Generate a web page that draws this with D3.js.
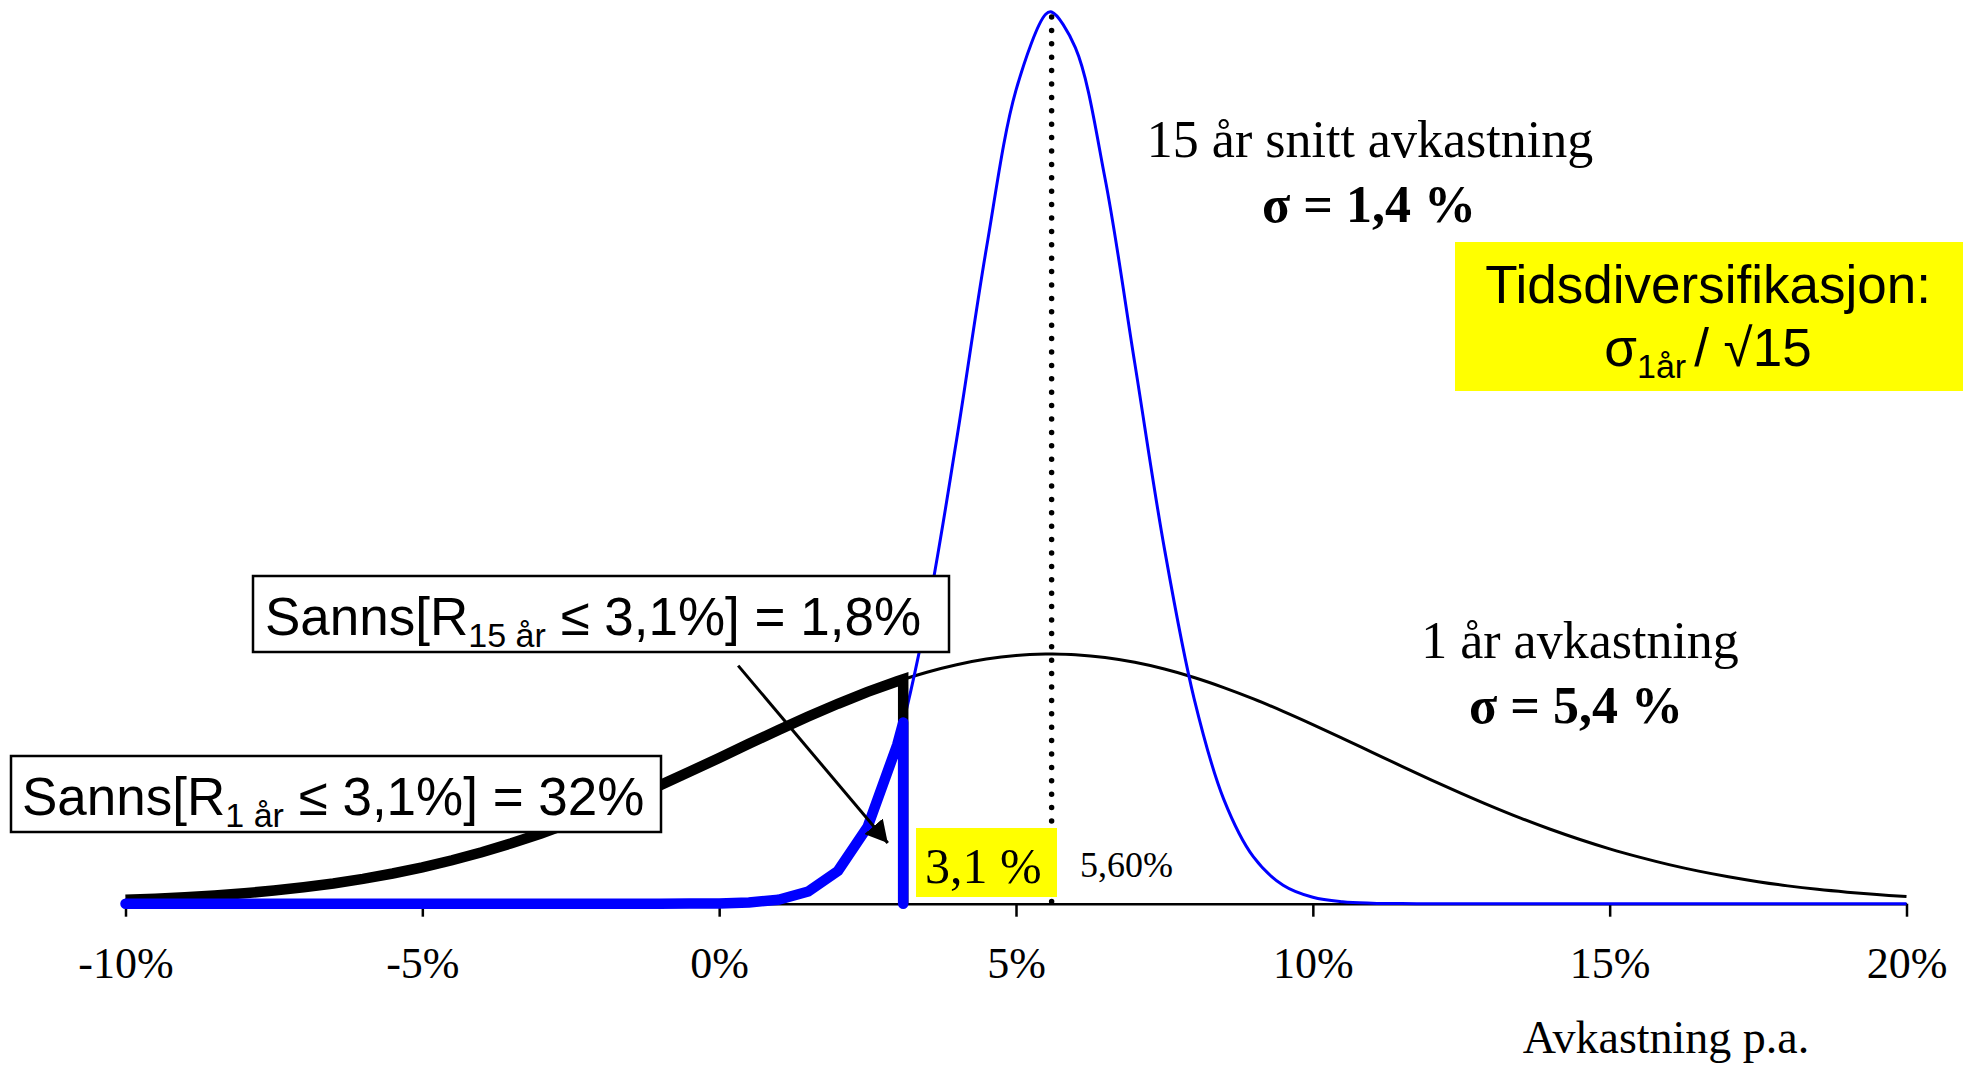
<!DOCTYPE html>
<html>
<head>
<meta charset="utf-8">
<script src="https://cdn.jsdelivr.net/npm/d3@7"></script>
<style>
  body { margin: 0; background: #fff; }
  .serif { font-family: "Liberation Serif", "Times New Roman", serif; }
  .sans { font-family: "Liberation Sans", Arial, sans-serif; }
</style>
</head>
<body>
<div id="graph"></div>
<script>
// return p.a. in %, one point every 0.5 %
const returns = [-10, -9.5, -9, -8.5, -8, -7.5, -7, -6.5, -6, -5.5, -5, -4.5, -4, -3.5, -3, -2.5,
  -2, -1.5, -1, -0.5, 0, 0.5, 1, 1.5, 2, 2.5, 3, 3.5, 4, 4.5, 5, 5.5, 6, 6.5, 7, 7.5, 8, 8.5,
  9, 9.5, 10, 10.5, 11, 11.5, 12, 12.5, 13, 13.5, 14, 14.5, 15, 15.5, 16, 16.5, 17, 17.5, 18,
  18.5, 19, 19.5, 20];

// curve heights (relative units, top of 15 year curve = 100)
const oneYear = [0.43, 0.56, 0.72, 0.93, 1.17, 1.48, 1.84, 2.27, 2.79, 3.39, 4.08, 4.87, 5.77,
  6.77, 7.88, 9.09, 10.4, 11.8, 13.27, 14.79, 16.35, 17.93, 19.48, 20.99, 22.42, 23.75, 24.94,
  25.96, 26.8, 27.43, 27.83, 28, 27.92, 27.61, 27.07, 26.32, 25.37, 24.24, 22.97, 21.57, 20.09,
  18.55, 16.98, 15.41, 13.87, 12.38, 10.95, 9.6, 8.35, 7.2, 6.15, 5.22, 4.38, 3.65, 3.02, 2.47,
  2, 1.61, 1.29, 1.02, 0.8];

const fifteenYear = [0, 0, 0, 0, 0, 0, 0, 0, 0, 0, 0, 0, 0, 0, 0, 0, 0, 0, 0, 0.01, 0.03, 0.13,
  0.45, 1.37, 3.67, 8.61, 17.83, 32.47, 52.05, 73.44, 91.23, 99.75, 96, 81.33, 60.65, 39.82,
  23.01, 11.7, 5.24, 2.07, 0.72, 0.22, 0.06, 0.01, 0, 0, 0, 0, 0, 0, 0, 0, 0, 0, 0, 0, 0, 0, 0,
  0, 0];

const tickValues = [-10, -5, 0, 5, 10, 15, 20];
const tickLabels = ["-10%", "-5%", "0%", "5%", "10%", "15%", "20%"];

// top of both curves at the mean
const meanReturn = 5.6;
const oneYearTop = 28;
const fifteenYearTop = 100;

const cutoff = 3.1;
const oneYearAtCutoff = 25.16;
const fifteenYearAtCutoff = 20.31;

// arrow from the 15 year label down to the tail (data units)
const arrowFrom = [0.32, 26.7];
const arrowTo = [2.84, 6.8];

const width = 1968, height = 1065;

const svg = d3.select("#graph")
  .append("svg")
  .attr("width", width)
  .attr("height", height);

const x = d3.scaleLinear().domain([-10, 20]).range([125.5, 1906.5]);
const y = d3.scaleLinear().domain([0, 100]).range([903.7, 12]);

//axis first so the curves sit on top of it
const axis = svg.append("g")
  .attr("transform", "translate(0," + y(0) + ")")
  .call(d3.axisBottom(x)
    .tickValues(tickValues)
    .tickFormat((d, i) => tickLabels[i])
    .tickSize(13)
    .tickSizeOuter(0)
    .tickPadding(30));
axis.select(".domain").attr("stroke", "#000").attr("stroke-width", 2.5);
axis.selectAll(".tick line").attr("stroke", "#000").attr("stroke-width", 2.5);
axis.selectAll(".tick text")
  .attr("class", "serif")
  .attr("font-size", 44)
  .attr("fill", "#000");

const rows = returns.map((r, i) => ({ r: r, one: oneYear[i], fifteen: fifteenYear[i] }));

// thin curves also pass through the top at the mean
const smoothRows = rows.concat([{ r: meanReturn, one: oneYearTop, fifteen: fifteenYearTop }])
  .sort((a, b) => a.r - b.r);

const smooth = (key) => d3.line()
  .x(d => x(d.r))
  .y(d => y(d[key]))
  .curve(d3.curveCatmullRom.alpha(0.5));

// thin full curves
svg.append("path").datum(smoothRows)
  .attr("d", smooth("one"))
  .attr("fill", "none").attr("stroke", "#000").attr("stroke-width", 3);
svg.append("path").datum(smoothRows)
  .attr("d", smooth("fifteen"))
  .attr("fill", "none").attr("stroke", "#0000ff").attr("stroke-width", 3);

// thick tails up to the 3,1 % cut
const tail = (key, atCut) => rows
  .filter(d => d.r <= cutoff)
  .map(d => [d.r, d[key]])
  .concat([[cutoff, atCut], [cutoff, 0]]);

const straight = d3.line().x(d => x(d[0])).y(d => y(d[1]));

svg.append("path").datum(tail("one", oneYearAtCutoff))
  .attr("d", straight)
  .attr("fill", "none").attr("stroke", "#000").attr("stroke-width", 10.5)
  .attr("stroke-linejoin", "miter");
svg.append("path").datum(tail("fifteen", fifteenYearAtCutoff))
  .attr("d", straight)
  .attr("fill", "none").attr("stroke", "#0000ff").attr("stroke-width", 10.5)
  .attr("stroke-linejoin", "round").attr("stroke-linecap", "round");

// dotted line at the mean
svg.append("line")
  .attr("x1", x(meanReturn)).attr("x2", x(meanReturn))
  .attr("y1", y(fifteenYearTop) + 5).attr("y2", y(0))
  .attr("stroke", "#000").attr("stroke-width", 5.5)
  .attr("stroke-linecap", "round")
  .attr("stroke-dasharray", "0 13.4");

// yellow 3,1 % label
svg.append("rect").attr("x", 916).attr("y", 828).attr("width", 141).attr("height", 69)
  .attr("fill", "#ffff00");
svg.append("text").attr("class", "serif").attr("x", 925).attr("y", 883)
  .attr("font-size", 50).text("3,1 %");

svg.append("text").attr("class", "serif").attr("x", 1080).attr("y", 877)
  .attr("font-size", 36).text("5,60%");

// curve labels
function label(cx, by, txt, bold) {
  svg.append("text").attr("class", "serif")
    .attr("x", cx).attr("y", by)
    .attr("text-anchor", "middle")
    .attr("font-size", 52)
    .attr("font-weight", bold ? "bold" : "normal")
    .text(txt);
}
label(1370, 157, "15 år snitt avkastning", false);
label(1369, 222, "σ = 1,4 %", true);
label(1580, 658, "1 år avkastning", false);
label(1576, 723, "σ = 5,4 %", true);

svg.append("text").attr("class", "serif").attr("x", 1666).attr("y", 1053)
  .attr("text-anchor", "middle").attr("font-size", 46).text("Avkastning p.a.");

// time diversification box
svg.append("rect").attr("x", 1455).attr("y", 242).attr("width", 508).attr("height", 149)
  .attr("fill", "#ffff00");
svg.append("text").attr("class", "sans").attr("x", 1708).attr("y", 303)
  .attr("text-anchor", "middle").attr("font-size", 53).text("Tidsdiversifikasjon:");
const tl = svg.append("text").attr("class", "sans").attr("x", 1708).attr("y", 366)
  .attr("text-anchor", "middle").attr("font-size", 53);
tl.append("tspan").text("σ");
tl.append("tspan").attr("font-size", 34).attr("dy", 12).text("1år");
tl.append("tspan").attr("dy", -12).attr("dx", 8).text("/ √15");

// probability boxes
function probBox(bx, by, bw, bh, tx, sub, rest) {
  svg.append("rect").attr("x", bx).attr("y", by).attr("width", bw).attr("height", bh)
    .attr("fill", "#fff").attr("stroke", "#000").attr("stroke-width", 2.5);
  const t = svg.append("text").attr("class", "sans")
    .attr("x", tx).attr("y", by + 59).attr("font-size", 53);
  t.append("tspan").text("Sanns[R");
  t.append("tspan").attr("font-size", 34).attr("dy", 12).text(sub);
  t.append("tspan").attr("dy", -12).text(rest);
}
probBox(253, 576, 696, 76, 265, "15 år", " ≤ 3,1%] = 1,8%");
probBox(11, 756, 650, 76, 22, "1 år", " ≤ 3,1%] = 32%");

// arrow
const defs = svg.append("defs");
defs.append("marker")
  .attr("id", "head")
  .attr("markerUnits", "userSpaceOnUse")
  .attr("viewBox", "0 0 22 24")
  .attr("refX", 22).attr("refY", 12)
  .attr("markerWidth", 22).attr("markerHeight", 24)
  .attr("orient", "auto")
  .append("path").attr("d", "M0,0L22,12L0,24Z").attr("fill", "#000");
svg.append("line")
  .attr("x1", x(arrowFrom[0])).attr("y1", y(arrowFrom[1]))
  .attr("x2", x(arrowTo[0])).attr("y2", y(arrowTo[1]))
  .attr("stroke", "#000").attr("stroke-width", 3)
  .attr("marker-end", "url(#head)");
</script>
</body>
</html>
